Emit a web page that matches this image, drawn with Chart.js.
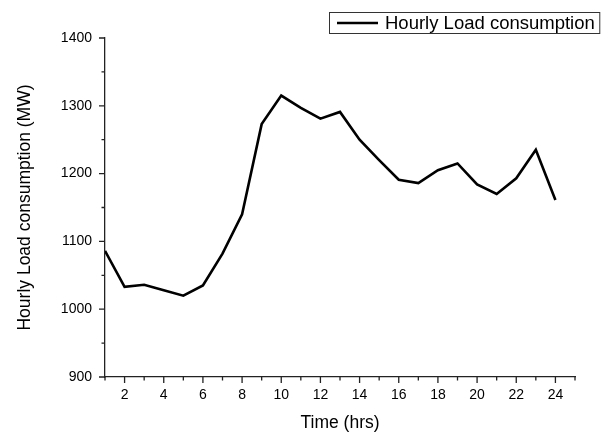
<!DOCTYPE html>
<html>
<head>
<meta charset="utf-8">
<script src="https://cdn.jsdelivr.net/npm/chart.js@4"></script>
<style>
  body { margin: 0; background: #fff; }
  canvas { display: block; }
</style>
</head>
<body>
<canvas id="myChart" width="601" height="432"></canvas>
<script>
const hours = [1, 2, 3, 4, 5, 6, 7, 8, 9, 10, 11, 12, 13, 14, 15, 16, 17, 18, 19, 20, 21, 22, 23, 24];
const load = [1086, 1033, 1036, 1028, 1020, 1035, 1082, 1140, 1273, 1315, 1297, 1281,
              1291, 1250, 1220, 1191, 1186, 1205, 1215, 1184, 1170, 1193, 1235, 1161];
const xTickLabels = [2, 4, 6, 8, 10, 12, 14, 16, 18, 20, 22, 24];
const xMinorTicks = [1, 3, 5, 7, 9, 11, 13, 15, 17, 19, 21, 23, 25];
const yMinorTicks = [950, 1050, 1150, 1250, 1350];
const seriesName = 'Hourly Load consumption';

const fontFamily = '"Liberation Sans", Arial, sans-serif';

// tick marks drawn by hand: long ones at labels, short ones between
const axisTicks = {
  id: 'axisTicks',
  afterDraw(chart) {
    const ctx = chart.ctx;
    const x = chart.scales.x;
    const y = chart.scales.y;
    const area = chart.chartArea;
    ctx.save();
    ctx.strokeStyle = '#222';
    ctx.lineWidth = 1.3;
    ctx.beginPath();
    x.ticks.forEach(t => {
      const px = x.getPixelForValue(t.value);
      ctx.moveTo(px, area.bottom);
      ctx.lineTo(px, area.bottom + 6);
    });
    xMinorTicks.forEach(v => {
      const px = x.getPixelForValue(v);
      ctx.moveTo(px, area.bottom);
      ctx.lineTo(px, area.bottom + 3.5);
    });
    y.ticks.forEach(t => {
      const py = y.getPixelForValue(t.value);
      ctx.moveTo(area.left, py);
      ctx.lineTo(area.left - 6, py);
    });
    yMinorTicks.forEach(v => {
      const py = y.getPixelForValue(v);
      ctx.moveTo(area.left, py);
      ctx.lineTo(area.left - 3.5, py);
    });
    ctx.stroke();

    // legend box in the top right corner
    const ds = chart.data.datasets[0];
    ctx.font = '18.5px ' + fontFamily;
    const textX = 385;
    const midY = 23;
    const w = ctx.measureText(ds.label).width;
    ctx.lineWidth = 1;
    ctx.strokeStyle = '#333';
    ctx.strokeRect(329.5, 12.5, textX + w + 5 - 329.5, 21);
    ctx.strokeStyle = ds.borderColor;
    ctx.lineWidth = ds.borderWidth;
    ctx.beginPath();
    ctx.moveTo(337, midY);
    ctx.lineTo(378, midY);
    ctx.stroke();
    ctx.fillStyle = '#000';
    ctx.textBaseline = 'middle';
    ctx.fillText(ds.label, textX, midY + 1);
    ctx.restore();
  }
};

const data = {
  datasets: [{
    label: seriesName,
    data: hours.map((h, i) => ({x: h, y: load[i]})),
    borderColor: '#000',
    borderWidth: 2.6,
    pointRadius: 0,
    tension: 0,
    fill: false,
  }]
};

const config = {
  type: 'line',
  data: data,
  plugins: [axisTicks],
  options: {
    responsive: false,
    animation: false,
    layout: {
      padding: {left: 0, right: 26, top: 38, bottom: 0}
    },
    plugins: {
      legend: {display: false},
      tooltip: {enabled: false},
    },
    scales: {
      x: {
        type: 'linear',
        min: 1,
        max: 25,
        afterBuildTicks: (scale) => {
          scale.ticks = xTickLabels.map(v => ({value: v}));
        },
        afterFit: (scale) => { scale.height = 55; },
        grid: {display: false, drawTicks: false},
        border: {display: true, color: '#222', width: 1.3},
        ticks: {
          color: '#000',
          padding: 10,
          maxRotation: 0,
          autoSkip: false,
          font: {family: fontFamily, size: 14},
          callback: (v) => String(v),
        },
        title: {
          display: true,
          text: 'Time (hrs)',
          color: '#000',
          padding: {top: 0, bottom: 0},
          font: {family: fontFamily, size: 17.5, lineHeight: 1},
        },
      },
      y: {
        min: 900,
        max: 1400,
        afterFit: (scale) => { scale.width = 105; },
        grid: {display: false, drawTicks: false},
        border: {display: true, color: '#222', width: 1.3},
        ticks: {
          stepSize: 100,
          color: '#000',
          padding: 13,
          font: {family: fontFamily, size: 14},
          callback: (v) => String(v),
        },
        title: {
          display: true,
          text: 'Hourly Load consumption (MW)',
          color: '#000',
          padding: {top: 16, bottom: 0},
          font: {family: fontFamily, size: 17.5, lineHeight: 1},
        },
      },
    },
  },
};

const myChart = new Chart(document.getElementById('myChart'), config);
</script>
</body>
</html>
